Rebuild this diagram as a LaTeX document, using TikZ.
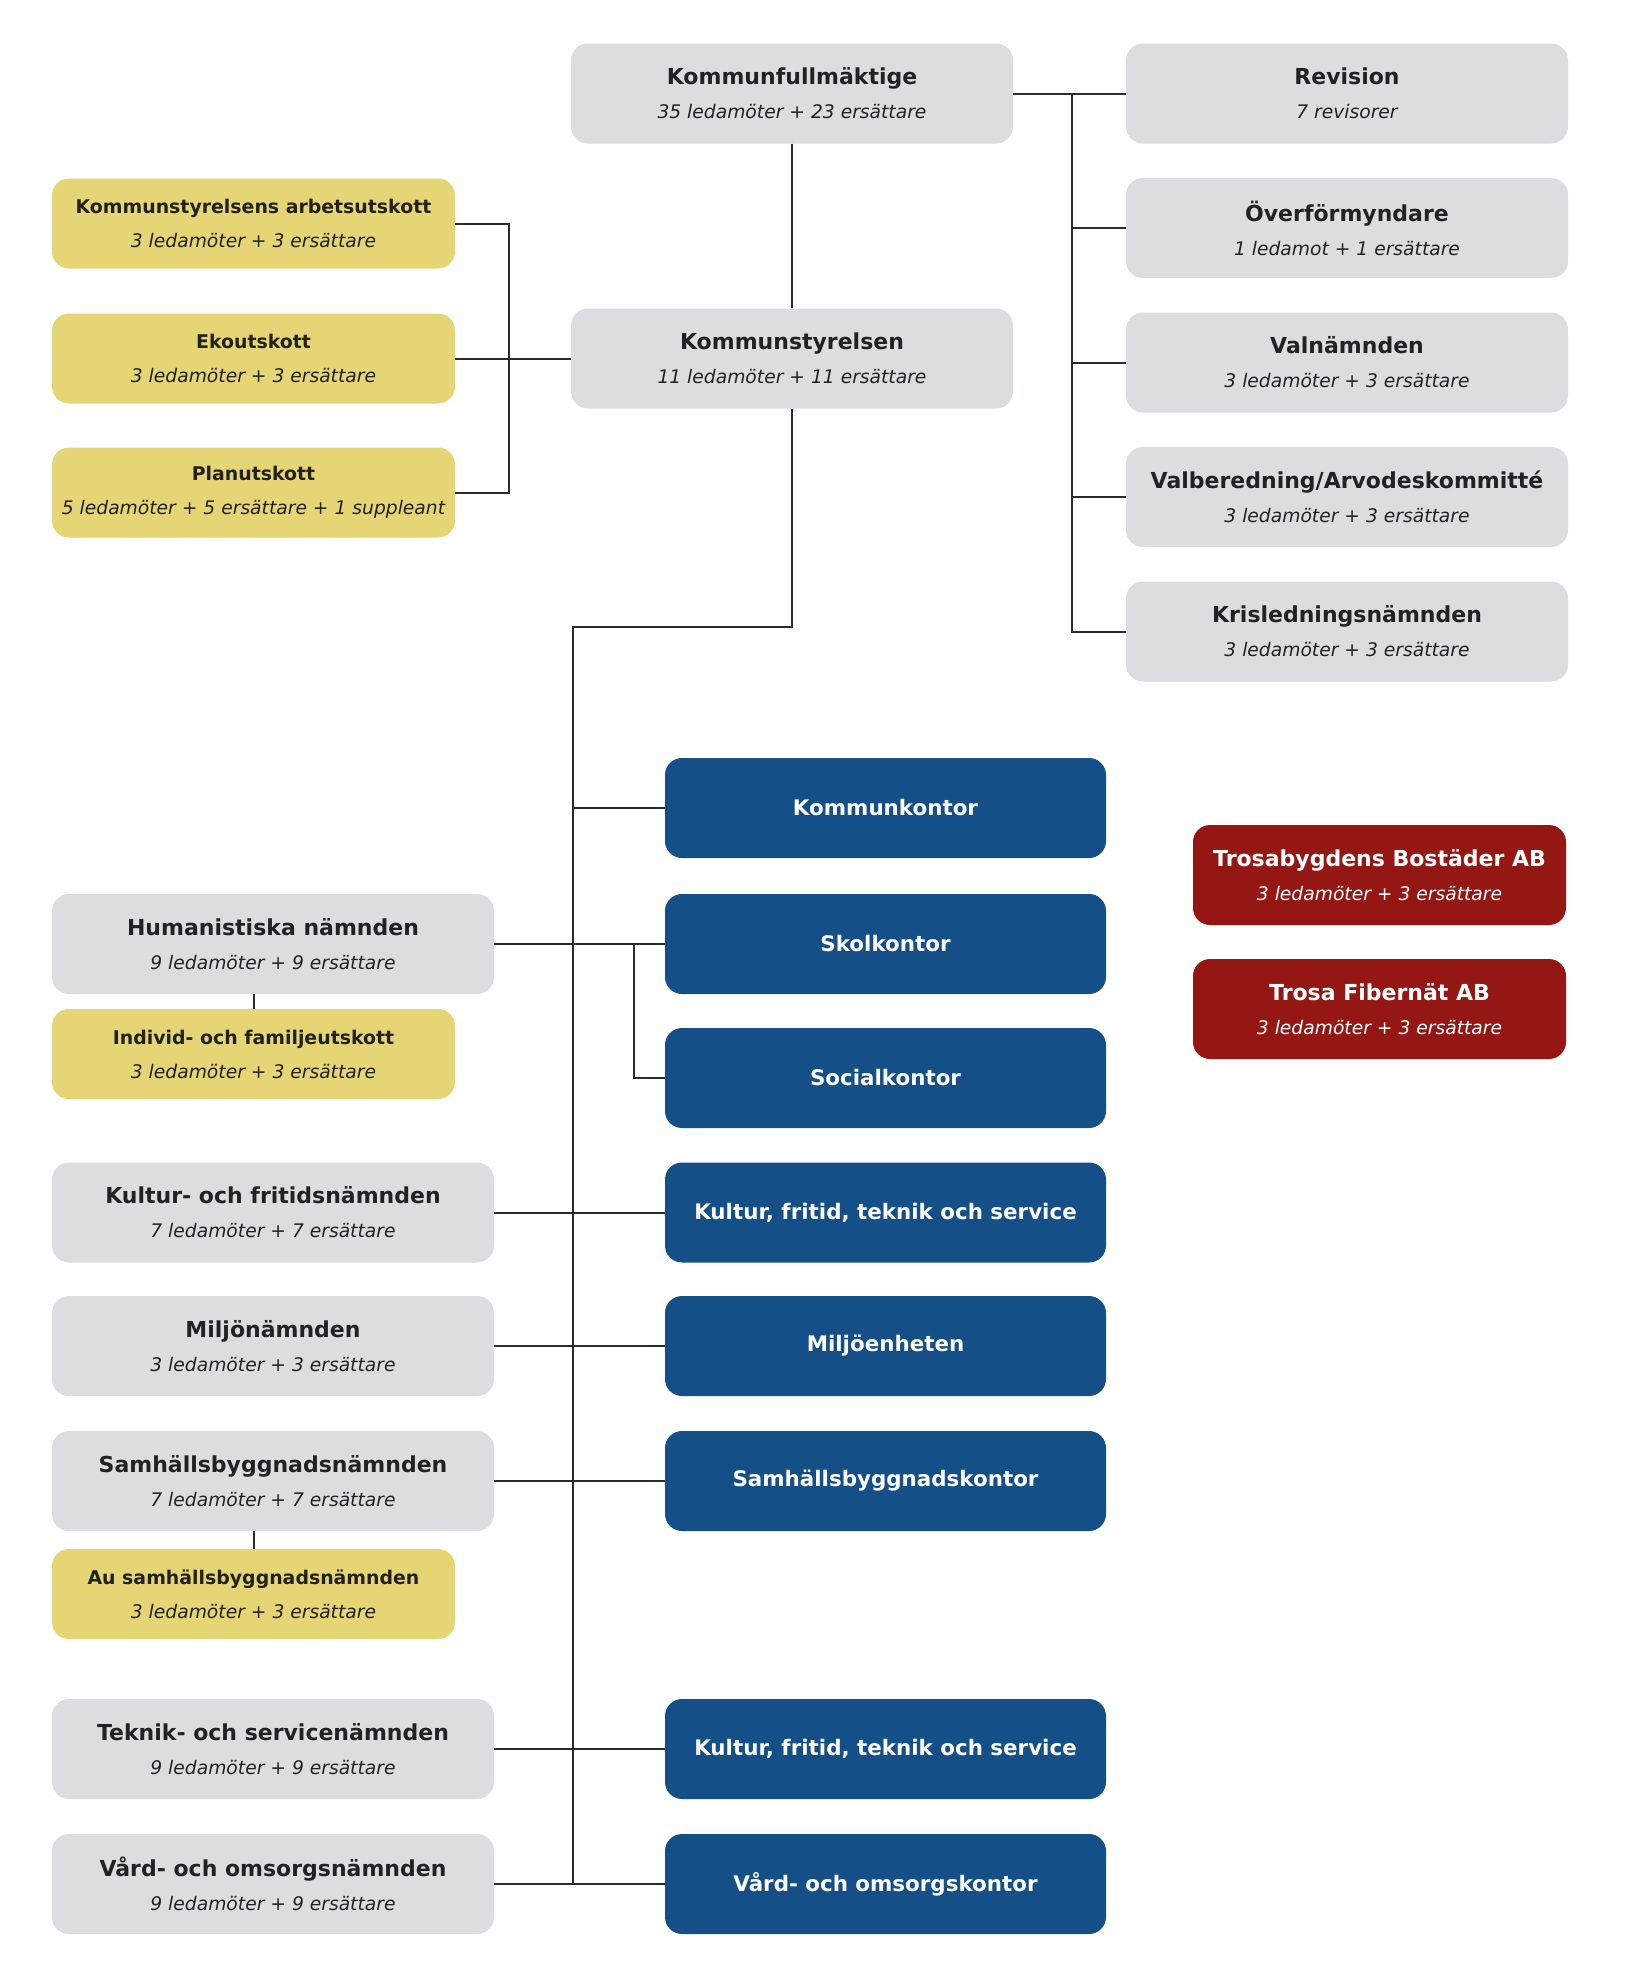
\documentclass[tikz,border=0pt]{standalone}
\usepackage{fontspec}
\setmainfont{DejaVu Sans}
\definecolor{grayc}{HTML}{DCDDE0}
\definecolor{yelc}{HTML}{E6D574}
\definecolor{bluec}{HTML}{154F87}
\definecolor{redc}{HTML}{941714}
\definecolor{txtc}{HTML}{222222}
\definecolor{linec}{HTML}{2B2B2B}
\tikzset{
  base/.style={rounded corners=17pt, inner sep=0pt, align=center, minimum width=442pt, minimum height=100pt, font=\fontsize{18.7}{34}\selectfont},
  gbox/.style={base, fill=grayc, text=txtc},
  ybox/.style={base, fill=yelc, text=txtc, minimum width=403pt, minimum height=90pt},
  bbox/.style={base, fill=bluec, text=white, minimum width=441pt, font=\fontsize{21.4}{26}\bfseries\selectfont},
  rbox/.style={base, fill=redc, text=white, minimum width=373pt},
  conn/.style={draw=linec, line width=2pt},
}
\newcommand\tw[2]{{\fontsize{22}{34}\bfseries\selectfont #1}\\{\itshape #2}}
\newcommand\ty[2]{{\fontsize{18.9}{34}\bfseries\selectfont #1}\\{\itshape #2}}
\begin{document}
\begin{tikzpicture}[x=1pt,y=-1pt]
\useasboundingbox[fill=white] (0,0) rectangle (1634,1976);
% top column
\node[gbox] (kf) at (792,93.5) {\tw{Kommunfullmäktige}{35 ledamöter + 23 ersättare}};
\node[gbox] (ks) at (792,358.5) {\tw{Kommunstyrelsen}{11 ledamöter + 11 ersättare}};
% right column
\node[gbox] (rev) at (1347,93.5) {\tw{Revision}{7 revisorer}};
\node[gbox] (ovf) at (1347,228) {\tw{Överförmyndare}{1 ledamot + 1 ersättare}};
\node[gbox] (val) at (1347,362.5) {\tw{Valnämnden}{3 ledamöter + 3 ersättare}};
\node[gbox] (valb) at (1347,497) {\tw{Valberedning/Arvodeskommitté}{3 ledamöter + 3 ersättare}};
\node[gbox] (kris) at (1347,631.5) {\tw{Krisledningsnämnden}{3 ledamöter + 3 ersättare}};
% yellow committees
\node[ybox] (ksau) at (253.5,223.5) {\ty{Kommunstyrelsens arbetsutskott}{3 ledamöter + 3 ersättare}};
\node[ybox] (eko) at (253.5,358.5) {\ty{Ekoutskott}{3 ledamöter + 3 ersättare}};
\node[ybox] (plan) at (253.5,492.5) {\ty{Planutskott}{5 ledamöter + 5 ersättare + 1 suppleant}};
% blue offices
\node[bbox] (kk) at (885.5,808) {Kommunkontor};
\node[bbox] (skol) at (885.5,944) {Skolkontor};
\node[bbox] (soc) at (885.5,1078) {Socialkontor};
\node[bbox] (kul1) at (885.5,1212.5) {Kultur, fritid, teknik och service};
\node[bbox] (milj) at (885.5,1346) {Miljöenheten};
\node[bbox] (samh) at (885.5,1481) {Samhällsbyggnadskontor};
\node[bbox] (kul2) at (885.5,1749) {Kultur, fritid, teknik och service};
\node[bbox] (vard) at (885.5,1884) {Vård- och omsorgskontor};
% left boards
\node[gbox] (hum) at (273,944) {\tw{Humanistiska nämnden}{9 ledamöter + 9 ersättare}};
\node[ybox] (ind) at (253.5,1054) {\ty{Individ- och familjeutskott}{3 ledamöter + 3 ersättare}};
\node[gbox] (kfn) at (273,1212.5) {\tw{Kultur- och fritidsnämnden}{7 ledamöter + 7 ersättare}};
\node[gbox] (mjn) at (273,1346) {\tw{Miljönämnden}{3 ledamöter + 3 ersättare}};
\node[gbox] (sbn) at (273,1481) {\tw{Samhällsbyggnadsnämnden}{7 ledamöter + 7 ersättare}};
\node[ybox] (au) at (253.5,1594) {\ty{Au samhällsbyggnadsnämnden}{3 ledamöter + 3 ersättare}};
\node[gbox] (tsn) at (273,1749) {\tw{Teknik- och servicenämnden}{9 ledamöter + 9 ersättare}};
\node[gbox] (von) at (273,1884) {\tw{Vård- och omsorgsnämnden}{9 ledamöter + 9 ersättare}};
% companies
\node[rbox] (tros) at (1379.5,875) {\tw{Trosabygdens Bostäder AB}{3 ledamöter + 3 ersättare}};
\node[rbox] (fib) at (1379.5,1009) {\tw{Trosa Fibernät AB}{3 ledamöter + 3 ersättare}};
% connectors
\coordinate (rx) at (1072,0);
\coordinate (lx) at (509,0);
\coordinate (tx) at (573,0);
\coordinate (bx) at (634,0);
\coordinate (tt) at (573,627);
\coordinate (tb) at (573,1884);
\draw[conn] (kf.south) -- (ks.north);
\draw[conn] (kf.east) -- (rev.west);
\draw[conn] (kf.east -| rx) |- (kris.west);
\draw[conn] (ovf.west -| rx) -- (ovf.west);
\draw[conn] (val.west -| rx) -- (val.west);
\draw[conn] (valb.west -| rx) -- (valb.west);
\draw[conn] (ksau.east) -| (ks.west -| lx) |- (plan.east);
\draw[conn] (eko.east) -- (ks.west);
\draw[conn] (ks.south) |- (tt) -- (tb);
\draw[conn] (kk.west -| tx) -- (kk.west);
\draw[conn] (hum.east) -- (skol.west);
\draw[conn] (skol.west -| bx) |- (soc.west);
\draw[conn] (hum.south -| ind.north) -- (ind.north);
\draw[conn] (kfn.east) -- (kul1.west);
\draw[conn] (mjn.east) -- (milj.west);
\draw[conn] (sbn.east) -- (samh.west);
\draw[conn] (sbn.south -| au.north) -- (au.north);
\draw[conn] (tsn.east) -- (kul2.west);
\draw[conn] (von.east) -- (vard.west);
\end{tikzpicture}
\end{document}
